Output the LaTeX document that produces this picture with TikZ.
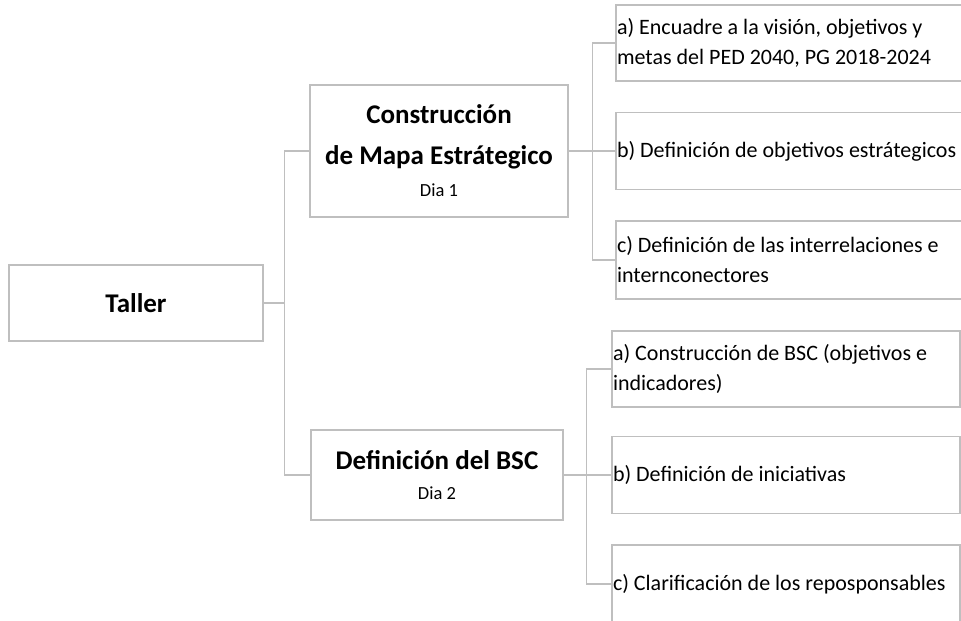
\documentclass[tikz,border=0pt]{standalone}
\usepackage{fontspec}
\setmainfont{Carlito}
\begin{document}
\begin{tikzpicture}[x=1pt,y=-1pt,
  boxline/.style={draw=gray!50, line width=1.3pt},
  conn/.style={draw=gray!50, line width=1.3pt},
  mainbox/.style={boxline, minimum width=#1, inner sep=0pt, align=center, font=\fontsize{27}{33}\selectfont\bfseries},
  childbox/.style={boxline, minimum width=348pt, minimum height=#1, inner xsep=1pt, inner ysep=0pt, text width=346pt, align=flush left, font=\fontsize{22}{30}\selectfont}
]
\useasboundingbox (0,0) rectangle (961,621);
\node[mainbox=254pt, minimum height=76pt] (taller) at (136,303) {Taller};
\node[mainbox=258pt, minimum height=132pt] (cons) at (439,151)
  {Construcción\\[8pt]de Mapa Estrátegico\\[-1pt]{\fontsize{18.5}{22}\selectfont\mdseries Dia 1}};
\node[mainbox=252pt, minimum height=90pt] (def) at (437,475)
  {Definición del BSC\\[-3pt]{\fontsize{18.5}{22}\selectfont\mdseries Dia 2}};

\node[childbox=76pt] (ta) at (790,43) {a) Encuadre a la visión, objetivos y\\metas del PED 2040, PG 2018-2024};
\node[childbox=77pt] (tb) at (790,151) {b) Definición de objetivos estrátegicos};
\node[childbox=78pt] (tc) at (790,260) {c) Definición de las interrelaciones e\\internconectores};

\node[childbox=76pt] (ba) at (786,369) {a) Construcción de BSC (objetivos e\\indicadores)};
\node[childbox=77pt] (bb) at (786,475) {b) Definición de iniciativas};
\node[childbox=78pt] (bc) at (786,584) {c) Clarificación de los reposponsables};

\coordinate (tj) at (285,303);
\draw[conn] (taller.east) -- (tj);
\draw[conn] (cons.west) -- ++(-25,0) |- (def.west);
\draw[conn] (cons.east) -- (tb.west);
\draw[conn] (ta.west) -- ++(-23,0) |- (tc.west);
\draw[conn] (def.east) -- (bb.west);
\draw[conn] (ba.west) -- ++(-25,0) |- (bc.west);
\end{tikzpicture}
\end{document}
